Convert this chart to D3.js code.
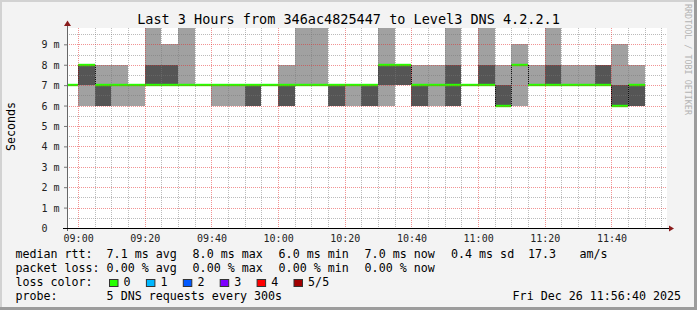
<!DOCTYPE html>
<html>
<head>
<meta charset="utf-8">
<script src="https://cdn.jsdelivr.net/npm/d3@7"></script>
<style>
  body { margin: 0; background: #f3f3f3; }
  svg { display: block; }
  text { font-family: "DejaVu Sans Mono", monospace; white-space: pre; }
</style>
</head>
<body>
<div id="chart"></div>
<script>
// probe slots (start of each 300s step)
const slots = ["08:55",
  "09:00","09:05","09:10","09:15","09:20","09:25","09:30","09:35","09:40","09:45","09:50","09:55",
  "10:00","10:05","10:10","10:15","10:20","10:25","10:30","10:35","10:40","10:45","10:50","10:55",
  "11:00","11:05","11:10","11:15","11:20","11:25","11:30","11:35","11:40","11:45"];

// sorted ping rtts (ms) for each slot: min, 2nd, median, 4th, max
const pingMin = [7,6,6,6,6,7,7,7,7,6,6,6,7,6,7,7,6,6,6,6,7,6,6,6,7,7,6,6,7,7,7,7,7,6,6];
const ping2   = [7,7,6,7,7,7,7,7,7,7,7,6,7,6,7,7,6,7,6,7,7,6,7,6,7,7,6,8,7,7,7,7,7,6,6];
const pingMed = [7,8,7,7,7,7,7,7,7,7,7,7,7,7,7,7,7,7,7,8,8,7,7,7,7,7,6,8,7,7,7,7,7,6,7];
const ping4   = [7,8,7,7,7,8,8,7,7,7,7,7,7,7,7,7,7,7,7,8,8,7,7,8,7,8,7,8,7,8,7,7,8,7,7];
const pingMax = [7,8,8,8,7,10,9,10,7,7,7,7,7,8,10,10,7,7,7,10,8,8,8,10,7,10,8,9,8,10,8,8,8,9,8];

const yTicks = [0,1,2,3,4,5,6,7,8,9];
const xTicks = ["09:00","09:20","09:40","10:00","10:20","10:40","11:00","11:20","11:40"];

const rttStats  = ["7.1 ms avg","8.0 ms max","6.0 ms min","7.0 ms now","0.4 ms sd","17.3","am/s"];
const lossStats = ["0.00 % avg","0.00 % max","0.00 % min","0.00 % now"];
const lossLabels = ["0","1","2","3","4","5/5"];
const lossColors = ["#26ff00","#00b8ff","#0059ff","#7e00ff","#ff0000","#a10000"];

const W = 697, H = 310;
const pLeft = 67, pRight = 667, pTop = 28, pBottom = 228;

const parse = s => { const p = s.split(":"); return new Date(2025, 11, 26, +p[0], +p[1]); };
const step = 5 * 60 * 1000;

const x = d3.scaleTime()
  .domain([new Date(2025, 11, 26, 8, 56, 40), new Date(2025, 11, 26, 11, 56, 40)])
  .range([pLeft, pRight]);
const y = d3.scaleLinear().domain([0, 9.8]).range([pBottom, pTop]);

const svg = d3.select("#chart").append("svg")
  .attr("width", W).attr("height", H);

// canvas + 3d frame
svg.append("rect").attr("width", W).attr("height", H).attr("fill", "#f3f3f3");
svg.append("rect").attr("width", W).attr("height", 2).attr("fill", "#d2d2d2");
svg.append("rect").attr("width", 2).attr("height", H).attr("fill", "#d2d2d2");
svg.append("rect").attr("x", W - 3).attr("width", 3).attr("height", H).attr("fill", "#9c9c9c");
svg.append("rect").attr("y", H - 3).attr("width", W).attr("height", 3).attr("fill", "#9c9c9c");

svg.append("defs").append("clipPath").attr("id", "plotclip")
  .append("rect").attr("x", pLeft).attr("y", pTop)
  .attr("width", pRight - pLeft).attr("height", pBottom - pTop);

svg.append("rect")
  .attr("x", pLeft).attr("y", pTop)
  .attr("width", pRight - pLeft).attr("height", pBottom - pTop)
  .attr("fill", "#fff");

const data = slots.map((s, i) => ({
  t0: parse(s), t1: new Date(+parse(s) + step),
  min: pingMin[i], p2: ping2[i], med: pingMed[i], p4: ping4[i], max: pingMax[i]
}));

const plot = svg.append("g").attr("clip-path", "url(#plotclip)");

// smoke: outer pings light, inner pings dark
plot.selectAll("rect.outer").data(data).enter().append("rect")
  .attr("class", "outer")
  .attr("x", d => Math.round(x(d.t0)))
  .attr("width", d => Math.round(x(d.t1)) - Math.round(x(d.t0)))
  .attr("y", d => Math.round(y(d.max)))
  .attr("height", d => Math.round(y(d.min)) - Math.round(y(d.max)))
  .attr("fill", "#a1a1a1");

plot.selectAll("rect.inner").data(data).enter().append("rect")
  .attr("class", "inner")
  .attr("x", d => Math.round(x(d.t0)))
  .attr("width", d => Math.round(x(d.t1)) - Math.round(x(d.t0)))
  .attr("y", d => Math.round(y(d.p4)))
  .attr("height", d => Math.round(y(d.p2)) - Math.round(y(d.p4)))
  .attr("fill", "#555555");

// grid on top of the smoke
const grid = svg.append("g").attr("shape-rendering", "crispEdges");
const minorY = d3.range(0.5, 9.8, 0.5).filter(v => v % 1 !== 0);
const minorCol = "rgba(120,120,120,0.5)", majorCol = "rgba(228,40,40,0.5)";
grid.selectAll("line.hmin").data(minorY).enter().append("line")
  .attr("x1", pLeft).attr("x2", pRight)
  .attr("y1", d => Math.round(y(d)) + 0.5).attr("y2", d => Math.round(y(d)) + 0.5)
  .attr("stroke", minorCol).attr("stroke-dasharray", "1,1");
const minorX = x.ticks(d3.timeMinute.every(5)).filter(d => d.getMinutes() % 20 !== 0);
grid.selectAll("line.vmin").data(minorX).enter().append("line")
  .attr("y1", pTop).attr("y2", pBottom)
  .attr("x1", d => Math.round(x(d)) + 0.5).attr("x2", d => Math.round(x(d)) + 0.5)
  .attr("stroke", minorCol).attr("stroke-dasharray", "1,1");
grid.selectAll("line.hmaj").data(yTicks.slice(1)).enter().append("line")
  .attr("x1", pLeft).attr("x2", pRight)
  .attr("y1", d => Math.round(y(d)) + 0.5).attr("y2", d => Math.round(y(d)) + 0.5)
  .attr("stroke", majorCol).attr("stroke-dasharray", "1,1");
grid.selectAll("line.vmaj").data(xTicks.map(parse)).enter().append("line")
  .attr("y1", pTop).attr("y2", pBottom)
  .attr("x1", d => Math.round(x(d)) + 0.5).attr("x2", d => Math.round(x(d)) + 0.5)
  .attr("stroke", majorCol).attr("stroke-dasharray", "1,1");

// median: green (0 loss) bars plus dotted steps between slots
plot.selectAll("rect.med").data(data).enter().append("rect")
  .attr("x", d => Math.round(x(d.t0)))
  .attr("width", d => Math.round(x(d.t1)) - Math.round(x(d.t0)))
  .attr("y", d => Math.round(y(d.med)) - 1.2)
  .attr("height", 2.4)
  .attr("fill", lossColors[0]);

const steps = data.slice(1).map((d, i) => ({ t: d.t0, a: data[i].med, b: d.med }))
  .filter(s => s.a !== s.b);
plot.selectAll("line.step").data(steps).enter().append("line")
  .attr("x1", d => Math.round(x(d.t)) + 0.5).attr("x2", d => Math.round(x(d.t)) + 0.5)
  .attr("y1", d => Math.round(y(d.a))).attr("y2", d => Math.round(y(d.b)))
  .attr("stroke", "#111").attr("stroke-dasharray", "1,1")
  .attr("shape-rendering", "crispEdges");

// y axis
const yAxis = svg.append("g")
  .attr("transform", `translate(${pLeft},0)`)
  .call(d3.axisLeft(y).tickValues(yTicks).tickFormat(d3.format("d")).tickSize(3).tickPadding(16.4));
yAxis.select(".domain").remove();
yAxis.selectAll(".tick line").attr("stroke", "#777");
yAxis.selectAll(".tick text")
  .attr("font-family", "DejaVu Sans Mono").attr("font-size", 10).attr("fill", "#222")
  .attr("dy", "0.36em");
yAxis.selectAll(".tick").filter(d => d > 0).append("text")
  .attr("x", -13.6).attr("dy", "0.36em")
  .attr("text-anchor", "start").attr("font-size", 10).attr("fill", "#222")
  .text("m");

svg.append("line")
  .attr("x1", pLeft + 0.5).attr("x2", pLeft + 0.5)
  .attr("y1", pBottom + 3).attr("y2", 24)
  .attr("stroke", "#666");
svg.append("path")
  .attr("d", `M${pLeft - 3},26 L${pLeft + 4},26 L${pLeft + 0.5},20.5 Z`)
  .attr("fill", "#8a1c1c");

// x axis
const xAxis = svg.append("g")
  .attr("transform", `translate(0,${pBottom})`)
  .call(d3.axisBottom(x).tickValues(xTicks.map(parse))
    .tickFormat(d3.timeFormat("%H:%M")).tickSize(0).tickPadding(6.6));
xAxis.select(".domain").remove();
xAxis.selectAll(".tick text")
  .attr("font-family", "DejaVu Sans Mono").attr("font-size", 10).attr("fill", "#222");

svg.append("line")
  .attr("x1", pLeft - 4).attr("x2", pRight + 2)
  .attr("y1", pBottom + 0.5).attr("y2", pBottom + 0.5)
  .attr("stroke", "#000");
svg.append("path")
  .attr("d", `M${pRight + 2},${pBottom - 2.5} L${pRight + 2},${pBottom + 3.5} L${pRight + 7},${pBottom + 0.5} Z`)
  .attr("fill", "#8a1c1c");

// titles
svg.append("text")
  .attr("x", 348.5).attr("y", 23.8)
  .attr("text-anchor", "middle").attr("font-size", 13.5).attr("fill", "#000")
  .text("Last 3 Hours from 346ac4825447 to Level3 DNS 4.2.2.1");

svg.append("text")
  .attr("transform", "translate(15,126.5) rotate(-90)")
  .attr("text-anchor", "middle").attr("font-size", 11.66).attr("fill", "#000")
  .text("Seconds");

svg.append("text")
  .attr("transform", "translate(684.5,4) rotate(90)")
  .attr("font-size", 8.4).attr("fill", "#b3b3b3")
  .text("RRDTOOL / TOBI OETIKER");

// legend
const legend = svg.append("g").attr("font-size", 11.66).attr("fill", "#000");
const col = 106.6;
legend.append("text").attr("x", 15.4).attr("y", 258.3).text("median rtt:");
const rttX = [col, 192.6, 278.6, 364.6, 451, 528, 579.4];
legend.selectAll("text.rtt").data(rttStats).enter().append("text")
  .attr("x", (d, i) => rttX[i]).attr("y", 258.3).text(d => d);

legend.append("text").attr("x", 15.4).attr("y", 272.3).text("packet loss:");
const lossX = [col, 192.6, 278.6, 364.6];
legend.selectAll("text.loss").data(lossStats).enter().append("text")
  .attr("x", (d, i) => lossX[i]).attr("y", 272.3).text(d => d);

legend.append("text").attr("x", 15.4).attr("y", 286.3).text("loss color:");
const swatch = legend.selectAll("g.sw").data(lossLabels).enter().append("g")
  .attr("transform", (d, i) => `translate(${109 + i * 36.9},0)`);
swatch.append("rect")
  .attr("x", 0.5).attr("y", 279.5).attr("width", 8.5).attr("height", 7)
  .attr("fill", (d, i) => lossColors[i]).attr("stroke", "#333");
swatch.append("text").attr("x", 14.6).attr("y", 286.3).text(d => d);

legend.append("text").attr("x", 15.4).attr("y", 300.3).text("probe:");
legend.append("text").attr("x", col).attr("y", 300.3).text("5 DNS requests every 300s");
legend.append("text").attr("x", 512.6).attr("y", 300.3).text("Fri Dec 26 11:56:40 2025");
</script>
</body>
</html>
